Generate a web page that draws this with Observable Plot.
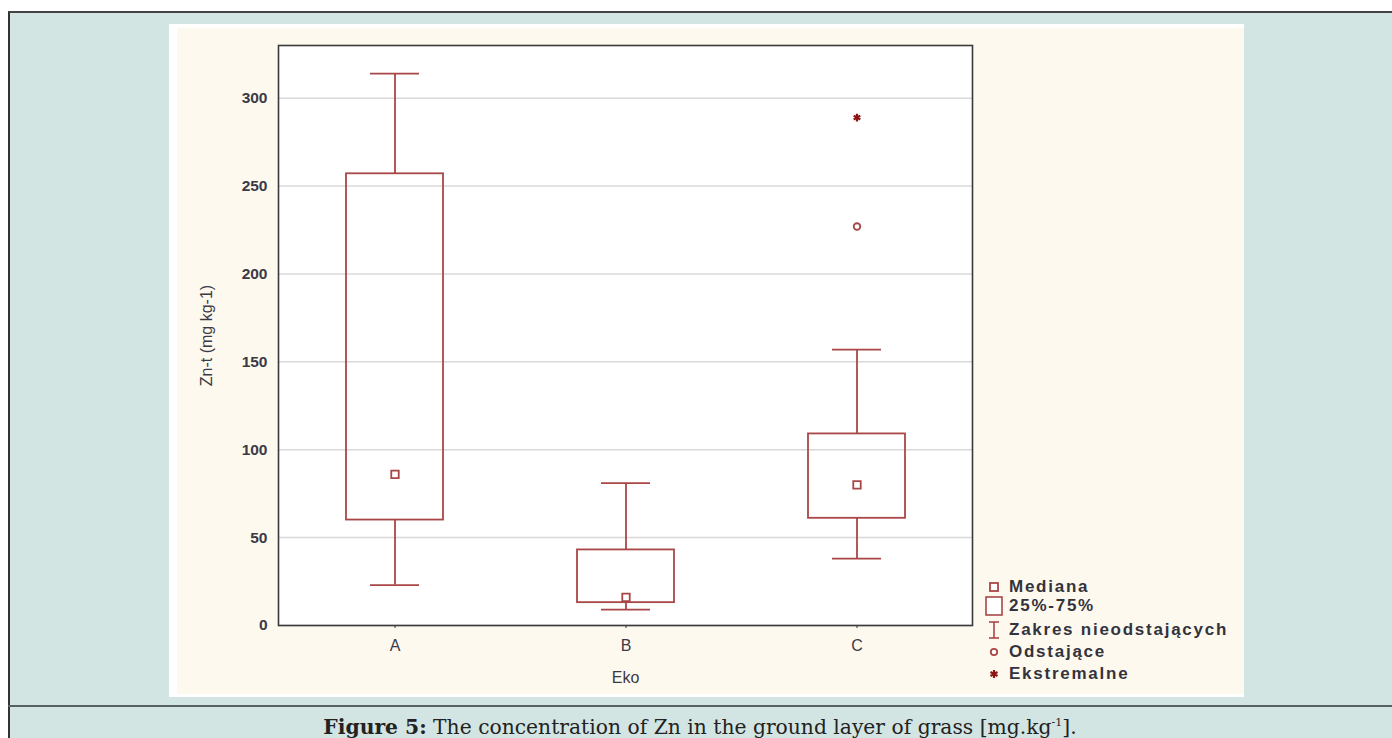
<!DOCTYPE html>
<html>
<head>
<meta charset="utf-8">
<script src="https://cdn.jsdelivr.net/npm/d3@7"></script>
<script src="https://cdn.jsdelivr.net/npm/@observablehq/plot@0.6"></script>
<style>
  html, body { margin: 0; padding: 0; background: #ffffff; }
  body { width: 1392px; height: 738px; position: relative; overflow: hidden; font-family: "Liberation Sans", Arial, sans-serif; }
  #panel { position: absolute; left: 8px; top: 11px; right: 0; bottom: 0; background: #d2e5e3; border-left: 2px solid #333; border-top: 2px solid #444; }
  #divider { position: absolute; left: 8px; right: 0; top: 705px; height: 2px; background: #5a5f5f; }
  #imgwhite { position: absolute; left: 169px; top: 24px; width: 1075px; height: 673px; background: #ffffff; }
  #plotwrap { position: absolute; left: 177px; top: 28px; width: 1067px; height: 666px; background: #fef9ee; }
  #legend { position: absolute; left: 984px; top: 577px; font-family: "Liberation Sans", Arial, sans-serif; font-weight: bold; font-size: 17px; color: #33333d; letter-spacing: 1.75px; }
  .li { position: absolute; left: 0; white-space: nowrap; height: 20px; line-height: 20px; }
  .li svg { position: absolute; left: 0; top: 0; }
  .li span { position: absolute; left: 25px; top: 0; }
  #caption { position: absolute; left: 0; right: 0; top: 711px; text-align: center; font-family: "DejaVu Serif", "Liberation Serif", serif; font-size: 20.3px; line-height: 24px; color: #222; padding-left: 8px; white-space: nowrap; }
  #caption sup { font-size: 11px; }
</style>
</head>
<body>
<div id="panel"></div>
<div id="divider"></div>
<div id="imgwhite"></div>
<div id="plotwrap"></div>
<div id="legend"></div>
<div id="caption"><b>Figure 5:</b> The concentration of Zn in the ground layer of grass [mg.kg<sup>-1</sup>].</div>
<script>
// ---- data ----
const categories = ["A", "B", "C"];
const q1 = [60, 13, 61];
const q3 = [257, 43, 109];
const median = [86, 16, 80];
const whiskerLow = [23, 9, 38];
const whiskerHigh = [314, 81, 157];
const outlierCats = ["C"];
const outlierValues = [227];
const extremeCats = ["C"];
const extremeValues = [289];
const yTicks = [0, 50, 100, 150, 200, 250, 300];
const legendLabels = ["Mediana", "25%-75%", "Zakres nieodstających", "Odstające", "Ekstremalne"];

const boxes = categories.map((c, i) => ({
  cat: c, q1: q1[i], q3: q3[i], med: median[i], lo: whiskerLow[i], hi: whiskerHigh[i]
}));
const outliers = outlierCats.map((c, i) => ({cat: c, value: outlierValues[i]}));
const extremes = extremeCats.map((c, i) => ({cat: c, value: extremeValues[i]}));

const boxColor = "#a94646";
const extremeColor = "#8b1414";
const textColor = "#3a3a46";

const chart = Plot.plot({
  width: 1067,
  height: 666,
  marginLeft: 101,
  marginTop: 17,
  marginRight: 272,
  marginBottom: 69,
  style: { background: "transparent", fontFamily: "Liberation Sans, Arial, sans-serif" },
  x: { type: "band", domain: categories, padding: 0, align: 0.5 },
  y: { domain: [0, 330], nice: false },
  marks: [
    Plot.frame({ fill: "white", stroke: "none" }),
    Plot.gridY(yTicks, { stroke: "#d8d8d8", strokeOpacity: 1, strokeWidth: 1.5 }),
    Plot.axisY(yTicks, {
      tickSize: 0, tickPadding: 11, fontSize: 15.5, fontWeight: "bold", fill: textColor, label: null
    }),
    Plot.axisY([], {
      tickSize: 0, fontSize: 16, fill: textColor,
      label: "Zn-t (mg kg-1)", labelAnchor: "center", labelArrow: "none", labelOffset: 78
    }),
    Plot.axisX({
      tickSize: 3, tickPadding: 11, fontSize: 16, fill: textColor, stroke: "#333",
      label: "Eko", labelAnchor: "center", labelArrow: "none", labelOffset: 57
    }),
    // whiskers
    Plot.ruleX(boxes, { x: "cat", y1: "lo", y2: "q1", stroke: boxColor, strokeWidth: 1.8 }),
    Plot.ruleX(boxes, { x: "cat", y1: "q3", y2: "hi", stroke: boxColor, strokeWidth: 1.8 }),
    Plot.tickY(boxes, { x: "cat", y: "lo", stroke: boxColor, strokeWidth: 1.8, insetLeft: 91, insetRight: 91 }),
    Plot.tickY(boxes, { x: "cat", y: "hi", stroke: boxColor, strokeWidth: 1.8, insetLeft: 91, insetRight: 91 }),
    // boxes
    Plot.barY(boxes, { x: "cat", y1: "q1", y2: "q3", fill: "none", stroke: boxColor, strokeWidth: 1.8, insetLeft: 67, insetRight: 67 }),
    // medians
    Plot.dot(boxes, { x: "cat", y: "med", symbol: "square", r: 4.2, fill: "white", stroke: boxColor, strokeWidth: 1.8 }),
    // outliers
    Plot.dot(outliers, { x: "cat", y: "value", symbol: "circle", r: 3.3, fill: "white", stroke: boxColor, strokeWidth: 1.8 }),
    // extremes
    Plot.dot(extremes, { x: "cat", y: "value", symbol: "asterisk", r: 3.6, stroke: extremeColor, strokeWidth: 2.2 }),
    // axis frame
    Plot.frame({ stroke: "#3a3a3a", strokeWidth: 1.6 })
  ]
});
document.getElementById("plotwrap").appendChild(chart);

// legend
const legendIcons = [
  `<svg width="20" height="20"><rect x="6" y="6" width="8" height="8" fill="white" stroke="${boxColor}" stroke-width="1.8"/></svg>`,
  `<svg width="20" height="20"><rect x="2" y="1" width="16" height="18" fill="white" stroke="${boxColor}" stroke-width="1.6"/></svg>`,
  `<svg width="20" height="20"><line x1="5" y1="2" x2="15" y2="2" stroke="${boxColor}" stroke-width="1.6"/><line x1="10" y1="2" x2="10" y2="18" stroke="${boxColor}" stroke-width="1.6"/><line x1="5" y1="18" x2="15" y2="18" stroke="${boxColor}" stroke-width="1.6"/></svg>`,
  `<svg width="20" height="20"><circle cx="10" cy="10" r="3.2" fill="white" stroke="${boxColor}" stroke-width="1.8"/></svg>`,
  `<svg width="20" height="20"><path d="M10,6V14M6.5,8L13.5,12M6.5,12L13.5,8" stroke="${extremeColor}" stroke-width="2.2"/></svg>`
];
const legendTops = [0, 19, 43, 65, 87];
const legend = document.getElementById("legend");
legendLabels.forEach((lab, i) => {
  const d = document.createElement("div");
  d.className = "li";
  d.style.top = legendTops[i] + "px";
  d.innerHTML = legendIcons[i] + `<span>${lab}</span>`;
  legend.appendChild(d);
});
</script>
</body>
</html>
